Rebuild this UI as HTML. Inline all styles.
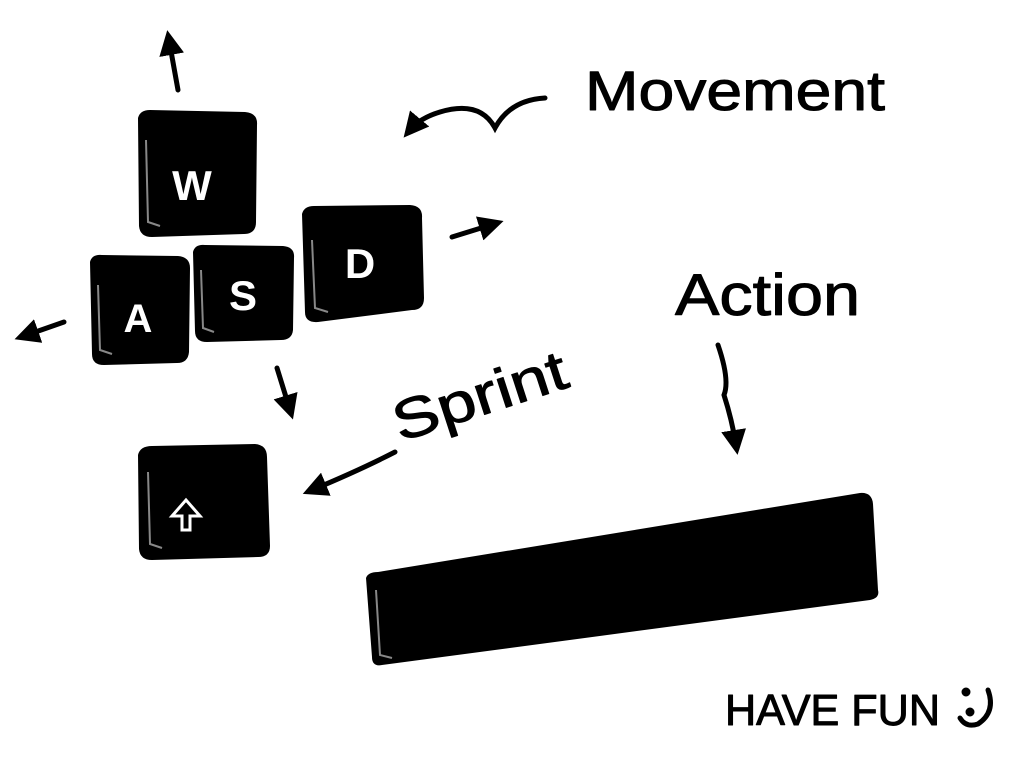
<!DOCTYPE html>
<html>
<head>
<meta charset="utf-8">
<style>
html,body{margin:0;padding:0;background:#fff;width:1024px;height:768px;overflow:hidden}
svg{display:block}
.hand{font-family:"Liberation Sans",sans-serif;fill:#000;stroke:#000;stroke-width:1;stroke-linejoin:round}
.keyl{font-family:"Liberation Sans",sans-serif;fill:#fff;font-weight:bold}
</style>
</head>
<body>
<svg width="1024" height="768" viewBox="0 0 1024 768">
  <defs>
    <marker id="ah" viewBox="0 0 10 10" refX="6" refY="5" markerWidth="5" markerHeight="5" orient="auto-start-reverse">
      <path d="M0,0 L10,5 L0,10 z" fill="#000"/>
    </marker>
  </defs>

  <g>
    <path d="M138,118 Q140,110 150,110 L245,112 Q258,113 257,125 L256,222 Q256,234 244,234 L152,237 Q140,237 139,226 Z" fill="#000"/>
    <path d="M146,140 L148,222 L160,226" stroke="#888" stroke-width="2" fill="none"/>
    <text class="keyl" x="192" y="200" font-size="42" text-anchor="middle">W</text>
  </g>
  <g>
    <path d="M90,262 Q92,254 102,255 L178,256 Q190,257 190,268 L189,352 Q188,363 177,363 L104,365 Q92,365 92,354 Z" fill="#000"/>
    <path d="M98,285 L100,350 L112,354" stroke="#888" stroke-width="2" fill="none"/>
    <text class="keyl" x="138" y="332" font-size="40" text-anchor="middle">A</text>
  </g>
  <g>
    <path d="M193,252 Q195,244 205,245 L283,246 Q295,247 294,258 L293,330 Q292,340 281,340 L207,342 Q195,342 195,331 Z" fill="#000"/>
    <path d="M201,270 L203,328 L214,332" stroke="#888" stroke-width="2" fill="none"/>
    <text class="keyl" x="243" y="310" font-size="42" text-anchor="middle">S</text>
  </g>
  <g>
    <path d="M302,214 Q304,206 314,206 L410,205 Q423,206 422,218 L424,298 Q424,310 412,310 L318,322 Q305,323 305,312 Z" fill="#000"/>
    <path d="M312,240 L315,308 L328,312" stroke="#888" stroke-width="2" fill="none"/>
    <text class="keyl" x="360" y="278" font-size="42" text-anchor="middle">D</text>
  </g>
  <g>
    <path d="M138,455 Q140,446 152,446 L255,444 Q267,445 267,457 L270,546 Q270,557 258,557 L152,560 Q140,560 139,549 Z" fill="#000"/>
    <path d="M148,472 L150,544 L162,548" stroke="#888" stroke-width="2" fill="none"/>
    <path d="M182,530 L182,516 L172,516 L186,500 L200,516 L190,516 L190,530 Z" fill="none" stroke="#fff" stroke-width="3"/>
  </g>
  <g>
    <path d="M366,578 Q368,572 378,572 L860,493 Q872,492 873,504 L878,590 Q880,598 870,600 L382,665 Q372,667 372,657 Z" fill="#000"/>
    <path d="M376,590 L380,655 L392,658" stroke="#888" stroke-width="2" fill="none"/>
  </g>

  <g stroke="#000" stroke-width="5" fill="none" stroke-linecap="round">
    <line x1="178" y1="90" x2="169" y2="40" marker-end="url(#ah)"/>
    <line x1="64" y1="322" x2="24" y2="336" marker-end="url(#ah)"/>
    <line x1="452" y1="237" x2="494" y2="224" marker-end="url(#ah)"/>
    <line x1="277" y1="368" x2="290" y2="410" marker-end="url(#ah)"/>
    <path d="M545,98 Q510,100 495,128 Q480,100 440,112 Q420,118 410,130" marker-end="url(#ah)"/>
    <path d="M395,452 Q360,470 312,490" marker-end="url(#ah)"/>
    <path d="M718,345 Q730,380 724,395 Q732,420 736,445" marker-end="url(#ah)"/>
  </g>

  <text class="hand" x="585" y="110" font-size="56" textLength="300" lengthAdjust="spacingAndGlyphs">Movement</text>
  <text class="hand" x="400" y="442" font-size="56" transform="rotate(-18 400 442)" textLength="180" lengthAdjust="spacingAndGlyphs">Sprint</text>
  <text class="hand" x="675" y="315" font-size="58" textLength="185" lengthAdjust="spacingAndGlyphs">Action</text>
  <text class="hand" x="725" y="725" font-size="44" textLength="215" lengthAdjust="spacingAndGlyphs">HAVE FUN</text>
  <g stroke="#000" stroke-width="5" fill="none" stroke-linecap="round">
    <circle cx="966" cy="692" r="2" fill="#000"/>
    <circle cx="970" cy="712" r="2" fill="#000"/>
    <path d="M988,690 Q996,712 978,724 Q966,728 960,718"/>
  </g>
</svg>
</body>
</html>
